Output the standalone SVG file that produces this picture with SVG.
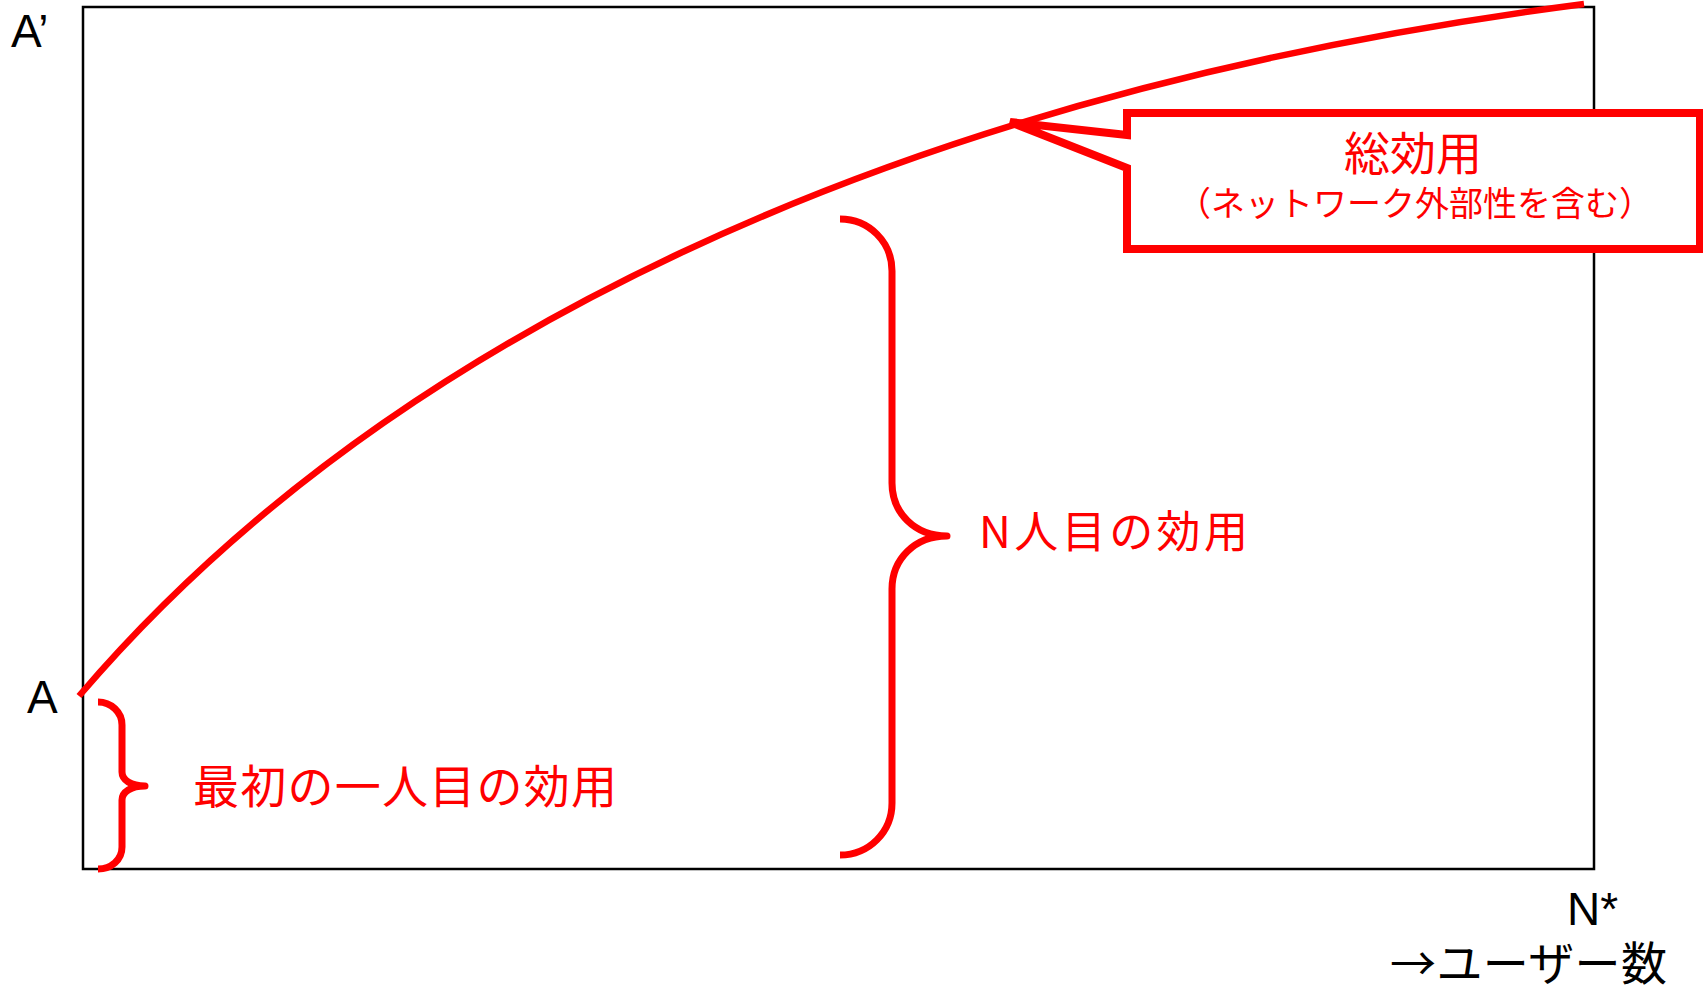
<svg xmlns="http://www.w3.org/2000/svg" width="1703" height="990" viewBox="0 0 1703 990">
<style>
.red{fill:none;stroke:#ff0000;stroke-linejoin:round}
.lat{font-family:"Liberation Sans",Arial,sans-serif;font-size:46px;fill:#000}
.jp{font-family:"Noto Sans CJK JP","Liberation Sans",sans-serif;fill:#ff0000}
.jpk{font-family:"Noto Sans CJK JP","Liberation Sans",sans-serif;fill:#000}
</style>
<rect width="1703" height="990" fill="#fff"/>
<g id="frame">
<rect x="83" y="7" width="1511" height="862" fill="none" stroke="#000" stroke-width="2.5"/>
</g>
<g id="connectors">
<path id="total-utility-curve" class="red" stroke-width="6.5" d="M79,696 C379,345 884,95 1584,4"/>
</g>
<g id="brace-first">
<path class="red" stroke-width="7" d="M98,702 C111,702 122,712 122,725 L122,772 C122,780 131,786 145,786 C131,786 122,792 122,800 L122,847 C122,860 111,869 98,869"/>
</g>
<g id="brace-n">
<path class="red" stroke-width="7" d="M840,219 C869,219 892,242 892,271 L892,483 C892,513 915,536 947,536 C915,536 892,559 892,589 L892,803 C892,832 869,855 840,855"/>
</g>
<g id="callout">
<path d="M1127,113 L1700,113 L1700,249 L1127,249 L1127,168 L1010,122 L1127,135 Z" fill="#fff" stroke="#ff0000" stroke-width="8" stroke-linejoin="miter" stroke-miterlimit="3"/>
<text class="jp" x="1413" y="170" font-size="46" text-anchor="middle">総効用</text>
<text class="jp" x="1415" y="216" font-size="34" text-anchor="middle">（ネットワーク外部性を含む）</text>
</g>
<g id="label-n">
<text class="jp" x="979" y="548" font-size="44" textLength="269" lengthAdjust="spacing">N人目の効用</text>
</g>
<g id="label-first">
<text class="jp" x="193" y="803" font-size="46" textLength="424" lengthAdjust="spacing">最初の一人目の効用</text>
</g>
<g id="axis-labels">
<text class="lat" x="11" y="47">A’</text>
<text class="lat" x="27" y="713">A</text>
<text class="lat" x="1567" y="925">N*</text>
<text class="jpk" x="1390" y="980" font-size="46" textLength="277" lengthAdjust="spacing">→ユーザー数</text>
</g>
</svg>
